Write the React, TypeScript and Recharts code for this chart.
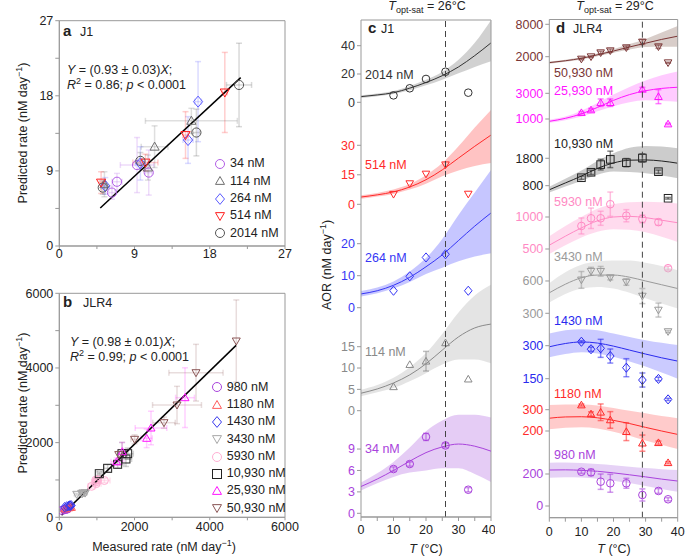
import React from 'react';
import {Area, ComposedChart, ErrorBar, Legend, Line, ReferenceArea, ReferenceLine, Scatter, XAxis, YAxis} from 'recharts';

const FONT = '"Liberation Sans", Arial, Helvetica, sans-serif';
const INK = '#222';
const FRAME = '#999';

type Kind = 'circle' | 'up' | 'down' | 'diamond' | 'square';

// ---------- panel a: J1, measured vs predicted (nM/day)
const j1Pts34 = [
    {x: 6.3, y: 6.4, ex: 0.4, ey: 0.8}, {x: 6.9, y: 7.7, ex: 0.6, ey: 1.0},
    {x: 9.3, y: 9.7, ex: 2.0, ey: 3.3}, {x: 10.7, y: 8.8, ex: 0.4, ey: 2.7},
];
const j1Pts114 = [
    {x: 5.4, y: 7.4, ex: 0.2, ey: 1.5}, {x: 10.6, y: 9.4, ex: 0.3, ey: 1.5},
    {x: 11.4, y: 11.9, ex: 1.6, ey: 2.5}, {x: 15.8, y: 15.0, ex: 5.5, ey: 1.5},
];
const j1Pts264 = [
    {x: 5.5, y: 7.2, ex: 0.2, ey: 1.0}, {x: 9.7, y: 9.9, ex: 0.6, ey: 2.0},
    {x: 15.4, y: 12.7, ex: 0.6, ey: 2.8}, {x: 16.6, y: 17.3, ex: 0.4, ey: 4.8},
];
const j1Pts514 = [
    {x: 5.0, y: 7.6, ex: 0.2, ey: 1.3}, {x: 10.3, y: 10.0, ex: 1.5, ey: 1.0},
    {x: 15.1, y: 13.3, ex: 0.3, ey: 2.8}, {x: 19.8, y: 18.4, ex: 0.3, ey: 4.8},
];
const j1Pts2014 = [
    {x: 5.2, y: 7.0, ex: 0.2, ey: 0.8}, {x: 9.7, y: 10.2, ex: 0.3, ey: 1.0},
    {x: 16.4, y: 13.6, ex: 0.4, ey: 2.8}, {x: 21.5, y: 19.3, ex: 1.5, ey: 5.0},
];
const j1Slope = 0.93;
const j1FitRange = [4.9, 21.7];

// ---------- panel b: JLR4, measured vs predicted (nM/day)
const jlrPts980 = [
    {x: 214, y: 223, ex: 10, ey: 10}, {x: 210, y: 220, ex: 10, ey: 10}, {x: 152, y: 217, ex: 20, ey: 15},
    {x: 142, y: 211, ex: 20, ey: 15}, {x: 142, y: 200, ex: 15, ey: 15}, {x: 69, y: 186, ex: 15, ey: 15},
];
const jlrPts1180 = [
    {x: 322, y: 267, ex: 10, ey: 15}, {x: 280, y: 265, ex: 10, ey: 15}, {x: 288, y: 262, ex: 30, ey: 15},
    {x: 252, y: 255, ex: 30, ey: 15}, {x: 197, y: 242, ex: 30, ey: 15}, {x: 143, y: 225, ex: 30, ey: 15},
];
const jlrPts1430 = [
    {x: 318, y: 317, ex: 10, ey: 15}, {x: 284, y: 315, ex: 10, ey: 15}, {x: 288, y: 312, ex: 30, ey: 15},
    {x: 253, y: 305, ex: 30, ey: 15}, {x: 200, y: 290, ex: 30, ey: 15}, {x: 144, y: 270, ex: 30, ey: 15},
];
const jlrPts3430 = [
    {x: 609, y: 630, ex: 60, ey: 30}, {x: 686, y: 648, ex: 40, ey: 30}, {x: 686, y: 655, ex: 40, ey: 30},
    {x: 631, y: 655, ex: 20, ey: 30}, {x: 594, y: 642, ex: 30, ey: 30}, {x: 463, y: 615, ex: 60, ey: 30},
];
const jlrPts5930 = [
    {x: 859, y: 830, ex: 100, ey: 60}, {x: 980, y: 900, ex: 130, ey: 60}, {x: 980, y: 950, ex: 100, ey: 60},
    {x: 1198, y: 985, ex: 150, ey: 60}, {x: 1020, y: 1005, ex: 80, ey: 60}, {x: 969, y: 995, ex: 60, ey: 60},
];
const jlrPts10930 = [
    {x: 1063, y: 1168, ex: 50, ey: 50}, {x: 1285, y: 1312, ex: 100, ey: 100}, {x: 1551, y: 1420, ex: 100, ey: 100},
    {x: 1666, y: 1704, ex: 120, ey: 300}, {x: 1772, y: 1562, ex: 150, ey: 200}, {x: 1817, y: 1704, ex: 150, ey: 150},
];
const jlrPts25930 = [
    {x: 1524, y: 1489, ex: 150, ey: 100}, {x: 1675, y: 1757, ex: 100, ey: 250}, {x: 2322, y: 2116, ex: 150, ey: 250},
    {x: 2438, y: 2392, ex: 420, ey: 450}, {x: 3342, y: 3204, ex: 250, ey: 800},
];
const jlrPts50930 = [
    {x: 1580, y: 1680, ex: 0, ey: 0}, {x: 2002, y: 2089, ex: 100, ey: 120}, {x: 2783, y: 2534, ex: 300, ey: 150},
    {x: 3129, y: 3008, ex: 650, ey: 500}, {x: 3634, y: 3873, ex: 720, ey: 760}, {x: 4705, y: 4722, ex: 0, ey: 1100},
];
const jlrSlope = 0.98;
const jlrFitRange = [60, 4700];

// ---------- panels c/d: fitted curves evaluated at these temperatures (°C)
const fitTemps = [0, 5, 10, 15, 20, 25, 30, 35, 40];

// panel c (J1), AOR in nM/day
const cTemps = [10, 15, 20, 26, 33];
const c2014 = [4.9, 9.9, 16.5, 21.6, 6.8];
const c514 = [5.1, 10.5, 15.4, 20.1, 5.2];
const c264 = [5.3, 9.8, 15.7, 16.7, 5.3];
const c114 = [5.6, 10.8, 11.6, 15.9, 7.4];
const c34 = [6.2, 6.9, 10.7, 9.5, 3.3];
const c114Err = [0, 0, 2.3, 0, 0];
const c34Err = [0.3, 0.3, 0.5, 0.3, 0.3];

const c2014Fit = [4.0, 5.2, 6.8, 10.0, 14.0, 18.8, 25.0, 33.0, 42.0];
const c2014Lo = [3.0, 4.3, 5.8, 8.5, 12.0, 16.0, 20.5, 25.0, 29.0];
const c2014Hi = [5.0, 6.2, 7.9, 11.5, 16.0, 21.5, 30.0, 42.0, 58.0];
const c514Fit = [3.7, 4.8, 6.3, 8.8, 12.5, 17.5, 23.5, 29.5, 35.2];
const c514Lo = [2.8, 4.0, 5.3, 7.5, 10.5, 14.2, 17.2, 19.5, 21.0];
const c514Hi = [4.6, 5.8, 7.5, 10.3, 14.8, 21.0, 29.5, 39.0, 48.0];
const c264Fit = [4.3, 5.3, 7.0, 9.5, 12.8, 16.5, 21.0, 25.5, 29.6];
const c264Lo = [3.5, 4.5, 6.0, 8.0, 10.5, 12.5, 14.5, 16.0, 17.0];
const c264Hi = [5.2, 6.3, 8.2, 11.3, 15.5, 21.5, 29.0, 36.0, 43.0];
const c114Fit = [4.1, 5.1, 6.5, 8.4, 11.0, 14.2, 17.3, 19.4, 20.3];
const c114Lo = [3.4, 4.3, 5.3, 6.9, 8.8, 10.8, 12.0, 12.0, 11.1];
const c114Hi = [4.9, 6.0, 7.7, 10.2, 13.5, 18.0, 23.0, 27.0, 29.5];
const c34Fit = [3.75, 4.8, 6.0, 7.3, 8.5, 9.3, 9.7, 9.4, 8.7];
const c34Lo = [3.2, 4.2, 5.1, 5.7, 6.0, 6.3, 6.3, 5.5, 4.4];
const c34Hi = [4.3, 5.6, 7.2, 9.2, 11.5, 13.0, 13.8, 13.8, 13.4];

// panel d (JLR4), AOR in nM/day
const dTemps = [10, 13, 16, 19, 24, 29, 34, 37];
const dTemps25930 = [10, 13, 16, 19, 29, 34, 37];
const d50930 = [1570, 2000, 2740, 3110, 3670, 4720, 3850, 890];
const d25930 = [1490, 1700, 2270, 2270, 3310, 2740, 610];
const d10930 = [1090, 1290, 1570, 1760, 1640, 1810, 1310, 340];
const d5930 = [860, 980, 980, 1200, 1020, 970, 920, 200];
const d3430 = [610, 690, 690, 630, 590, 460, 330, 130];
const d1430 = [318, 284, 288, 253, 200, 144, 149, 56];
const d1180 = [322, 280, 288, 252, 197, 143, 145, 51];
const d980 = [214, 210, 152, 142, 142, 69, 94, 42];
const d50930Err = [150, 150, 250, 300, 300, 450, 300, 100];
const d25930Err = [100, 120, 290, 290, 150, 545, 60];
const d10930Err = [60, 80, 195, 300, 150, 150, 60, 30];
const d5930Err = [125, 160, 110, 190, 95, 60, 50, 30];
const d3430Err = [78, 37, 45, 20, 30, 70, 65, 10];
const d1430Err = [5, 10, 41, 32, 41, 32, 8, 5];
const d1180Err = [5, 10, 39, 39, 42, 38, 8, 5];
const d980Err = [10, 20, 48, 56, 31, 38, 15, 10];

const d50930Fit = [900, 1250, 1700, 2350, 3050, 3800, 4500, 5200, 5800];
const d50930Lo = [700, 1050, 1500, 2100, 2750, 3350, 3800, 3850, 3850];
const d50930Hi = [1100, 1450, 1900, 2600, 3400, 4350, 5300, 6500, 7700];
const d25930Fit = [820, 1050, 1400, 1900, 2450, 2900, 3200, 3380, 3470];
const d25930Lo = [700, 900, 1200, 1600, 2000, 2300, 2450, 2400, 2350];
const d25930Hi = [950, 1200, 1650, 2250, 2900, 3500, 4000, 4400, 4700];
const d10930Fit = [650, 900, 1150, 1430, 1630, 1730, 1740, 1700, 1620];
const d10930Lo = [550, 770, 980, 1200, 1320, 1300, 1250, 1170, 1070];
const d10930Hi = [760, 1050, 1350, 1700, 1980, 2180, 2250, 2230, 2170];
const d5930Fit = [560, 700, 830, 940, 1000, 1010, 990, 950, 910];
const d5930Lo = [420, 560, 680, 770, 810, 800, 760, 690, 610];
const d5930Hi = [700, 860, 1000, 1130, 1200, 1230, 1240, 1230, 1210];
const d3430Fit = [490, 570, 630, 655, 655, 635, 600, 565, 530];
const d3430Lo = [400, 480, 530, 545, 530, 490, 440, 390, 345];
const d3430Hi = [580, 680, 750, 780, 790, 790, 770, 740, 700];
const d1430Fit = [295, 310, 317, 312, 298, 280, 262, 245, 230];
const d1430Lo = [247, 262, 270, 265, 250, 228, 205, 178, 150];
const d1430Hi = [355, 370, 375, 370, 355, 340, 325, 313, 303];
const d1180Fit = [260, 266, 267, 262, 250, 235, 217, 200, 184];
const d1180Lo = [208, 215, 218, 212, 197, 178, 155, 135, 115];
const d1180Hi = [322, 325, 325, 320, 308, 295, 283, 270, 260];
const d980Fit = [225, 226, 223, 217, 207, 195, 182, 168, 156];
const d980Lo = [177, 180, 178, 170, 158, 143, 125, 106, 89];
const d980Hi = [270, 272, 268, 262, 255, 245, 237, 230, 225];


interface MarkerProps {
    cx?: number;
    cy?: number;
    kind: Kind;
    color: string;
    r: number;
}

function Marker({cx, cy, kind, color, r}: MarkerProps) {
    if (cx == null || cy == null) return null;
    const p = {fill: 'none', stroke: color, strokeWidth: 1};
    switch (kind) {
        case 'circle':
            return <circle cx={cx} cy={cy} r={r} {...p}/>;
        case 'square':
            return <rect x={cx - r} y={cy - r} width={2 * r} height={2 * r} {...p}/>;
        case 'diamond':
            return <polygon points={`${cx},${cy - r * 1.2} ${cx + r},${cy} ${cx},${cy + r * 1.2} ${cx - r},${cy}`} {...p}/>;
        case 'up':
            return <polygon points={`${cx},${cy - r} ${cx + r},${cy + r * 0.75} ${cx - r},${cy + r * 0.75}`} {...p}/>;
        case 'down':
            return <polygon points={`${cx},${cy + r} ${cx + r},${cy - r * 0.75} ${cx - r},${cy - r * 0.75}`} {...p}/>;
    }
}

interface ParitySeries {
    name: string;
    kind: Kind;
    color: string;
    err: string;
    points: {x: number; y: number; ex: number; ey: number}[];
}

const seriesA: ParitySeries[] = [
    {name: '34 nM', kind: 'circle', color: '#b25ee6', err: 'rgba(178,94,230,0.22)', points: j1Pts34},
    {name: '114 nM', kind: 'up', color: '#6f6f6f', err: 'rgba(110,110,110,0.22)', points: j1Pts114},
    {name: '264 nM', kind: 'diamond', color: '#5a5aff', err: 'rgba(90,90,255,0.22)', points: j1Pts264},
    {name: '514 nM', kind: 'down', color: '#ff1f1f', err: 'rgba(255,31,31,0.22)', points: j1Pts514},
    {name: '2014 nM', kind: 'circle', color: '#555555', err: 'rgba(80,80,80,0.22)', points: j1Pts2014},
];

const seriesB: ParitySeries[] = [
    {name: '980 nM', kind: 'circle', color: '#a943dc', err: 'rgba(169,67,220,0.22)', points: jlrPts980},
    {name: '1180 nM', kind: 'up', color: '#ff5a5a', err: 'rgba(255,90,90,0.22)', points: jlrPts1180},
    {name: '1430 nM', kind: 'diamond', color: '#3a3aee', err: 'rgba(58,58,238,0.22)', points: jlrPts1430},
    {name: '3430 nM', kind: 'down', color: '#a8a8a8', err: 'rgba(160,160,160,0.25)', points: jlrPts3430},
    {name: '5930 nM', kind: 'circle', color: '#ffb0d4', err: 'rgba(255,160,200,0.3)', points: jlrPts5930},
    {name: '10,930 nM', kind: 'square', color: '#222222', err: 'rgba(60,60,60,0.22)', points: jlrPts10930},
    {name: '25,930 nM', kind: 'up', color: '#ff14ff', err: 'rgba(255,20,255,0.2)', points: jlrPts25930},
    {name: '50,930 nM', kind: 'down', color: '#8a5555', err: 'rgba(138,85,85,0.2)', points: jlrPts50930},
];

function LegendBox({series}: {series: ParitySeries[]}) {
    return (
        <div style={{fontFamily: FONT, fontSize: 12.5, color: INK, lineHeight: '17.3px'}}>
            {series.map(s => (
                <div key={s.name} style={{display: 'flex', alignItems: 'center', height: 17.3}}>
                    <svg width={14} height={14}>
                        <Marker cx={7} cy={7} kind={s.kind} color={s.color} r={4.5}/>
                    </svg>
                    <span style={{marginLeft: 3}}>{s.name}</span>
                </div>
            ))}
        </div>
    );
}

interface ParityProps {
    top: number;
    height: number;
    plotTop: number;
    plotBottom: number;
    max: number;
    ticks: number[];
    major: number;
    series: ParitySeries[];
    slope: number;
    fitRange: number[];
    legend: {left: number; top: number};
    xTickMargin: number;
    r: number;
}

function ParityPanel(props: ParityProps) {
    const {top, height, plotTop, plotBottom, max, ticks, major, series, slope, fitRange, legend, xTickMargin, r} = props;
    const fmt = (v: number) => (v % major === 0 ? String(v) : '');
    const fit = fitRange.map(x => ({x, fit: slope * x}));
    return (
        <div style={{position: 'absolute', left: 0, top}}>
            <ComposedChart width={300} height={height} margin={{top: plotTop, right: 15, bottom: 0, left: 0}}>
                <XAxis type="number" dataKey="x" domain={[0, max]} ticks={ticks} tickFormatter={fmt}
                       allowDataOverflow height={height - plotBottom} stroke={FRAME}
                       tick={{fill: INK, fontSize: 12.5}} tickSize={3} tickMargin={xTickMargin}/>
                <YAxis type="number" domain={[0, max]} ticks={ticks} tickFormatter={fmt} allowDataOverflow
                       width={59.3} stroke={FRAME} tick={{fill: INK, fontSize: 12.5}} tickSize={4} tickMargin={2}/>
                <ReferenceArea x1={0} x2={max} y1={0} y2={max} fill="none" stroke={FRAME} ifOverflow="visible"/>
                {series.map(s => (
                    <Scatter key={s.name} name={s.name} data={s.points} dataKey="y" isAnimationActive={false}
                             shape={(p: any) => <Marker cx={p.cx} cy={p.cy} kind={s.kind} color={s.color} r={r}/>}>
                        <ErrorBar dataKey="ey" direction="y" width={3} stroke={s.err} isAnimationActive={false}/>
                        <ErrorBar dataKey="ex" direction="x" width={3} stroke={s.err} isAnimationActive={false}/>
                    </Scatter>
                ))}
                <Line data={fit} dataKey="fit" type="linear" stroke="#000" strokeWidth={1.5} dot={false}
                      isAnimationActive={false} legendType="none"/>
                <Legend layout="vertical" align="center" verticalAlign="middle"
                        wrapperStyle={{left: legend.left, top: legend.top, width: 'auto', height: 'auto'}}
                        content={() => <LegendBox series={series}/>}/>
            </ComposedChart>
        </div>
    );
}

interface StackSeries {
    name: string;
    kind: Kind;
    color: string;
    band: string;
    temps: number[];
    values: number[];
    err: number[];
    fit: number[];
    lo: number[];
    hi: number[];
    ticks: number[];
    // layout: pixel row of the zero line and pixels per unit in this strip
    zero: number;
    ppu: number;
    labelY: number;
}

const seriesC: StackSeries[] = [
    {name: '2014 nM', kind: 'circle', color: '#333333', band: '#9a9a9a', temps: cTemps, values: c2014, err: [0, 0, 0, 0, 0],
        fit: c2014Fit, lo: c2014Lo, hi: c2014Hi, ticks: [0, 20, 40], zero: 102.3, ppu: 1.415, labelY: 78.5},
    {name: '514 nM', kind: 'down', color: '#ff2a2a', band: '#ff7a7a', temps: cTemps, values: c514, err: [0, 0, 0, 0, 0],
        fit: c514Fit, lo: c514Lo, hi: c514Hi, ticks: [0, 15, 30], zero: 204.3, ppu: 1.967, labelY: 169},
    {name: '264 nM', kind: 'diamond', color: '#3636f5', band: '#8080ff', temps: cTemps, values: c264, err: [0, 0, 0, 0, 0],
        fit: c264Fit, lo: c264Lo, hi: c264Hi, ticks: [0, 10, 20], zero: 307.7, ppu: 3.2, labelY: 262},
    {name: '114 nM', kind: 'up', color: '#8a8a8a', band: '#c4c4c4', temps: cTemps, values: c114, err: c114Err,
        fit: c114Fit, lo: c114Lo, hi: c114Hi, ticks: [0, 5, 10, 15], zero: 410.7, ppu: 4.267, labelY: 356},
    {name: '34 nM', kind: 'circle', color: '#a943dc', band: '#c58ee8', temps: cTemps, values: c34, err: c34Err,
        fit: c34Fit, lo: c34Lo, hi: c34Hi, ticks: [0, 3, 6, 9], zero: 513.3, ppu: 7.14, labelY: 453},
];

const seriesD: StackSeries[] = [
    {name: '50,930 nM', kind: 'down', color: '#7a3535', band: '#a89088', temps: dTemps, values: d50930, err: d50930Err,
        fit: d50930Fit, lo: d50930Lo, hi: d50930Hi, ticks: [2000, 5000, 8000], zero: 67.5, ppu: 0.0054, labelY: 77},
    {name: '25,930 nM', kind: 'up', color: '#ff14ff', band: '#ff8cff', temps: dTemps25930, values: d25930, err: d25930Err,
        fit: d25930Fit, lo: d25930Lo, hi: d25930Hi, ticks: [1000, 3000], zero: 131.85, ppu: 0.01285, labelY: 94.5},
    {name: '10,930 nM', kind: 'square', color: '#222222', band: '#8f8f8f', temps: dTemps, values: d10930, err: d10930Err,
        fit: d10930Fit, lo: d10930Lo, hi: d10930Hi, ticks: [800, 1800], zero: 207.6, ppu: 0.0274, labelY: 148},
    {name: '5930 nM', kind: 'circle', color: '#ff8ac4', band: '#ffb0da', temps: dTemps, values: d5930, err: d5930Err,
        fit: d5930Fit, lo: d5930Lo, hi: d5930Hi, ticks: [500, 1000], zero: 281, ppu: 0.064, labelY: 206},
    {name: '3430 nM', kind: 'down', color: '#9a9a9a', band: '#cccccc', temps: dTemps, values: d3430, err: d3430Err,
        fit: d3430Fit, lo: d3430Lo, hi: d3430Hi, ticks: [300, 600], zero: 345.6, ppu: 0.1077, labelY: 261},
    {name: '1430 nM', kind: 'diamond', color: '#2a2aee', band: '#8c8cff', temps: dTemps, values: d1430, err: d1430Err,
        fit: d1430Fit, lo: d1430Lo, hi: d1430Hi, ticks: [150, 300], zero: 411.7, ppu: 0.22, labelY: 324.5},
    {name: '1180 nM', kind: 'up', color: '#ff2a2a', band: '#ff8c8c', temps: dTemps, values: d1180, err: d1180Err,
        fit: d1180Fit, lo: d1180Lo, hi: d1180Hi, ticks: [200, 300], zero: 473.6, ppu: 0.213, labelY: 398},
    {name: '980 nM', kind: 'circle', color: '#a943dc', band: '#c89cec', temps: dTemps, values: d980, err: d980Err,
        fit: d980Fit, lo: d980Lo, hi: d980Hi, ticks: [0, 100, 200], zero: 506, ppu: 0.16, labelY: 459},
];

interface StackBox {
    left: number;
    width: number;
    plotLeft: number;
    plotRight: number;
    plotTop: number;
    plotBottom: number;
    dashAt: number;
    xTickMargin: number;
}

const H = 558;
const tempTicks = [0, 5, 10, 15, 20, 25, 30, 35, 40];

function StackPanel({box, series}: {box: StackBox; series: StackSeries[]}) {
    const fmtT = (v: number) => (v % 10 === 0 ? String(v) : '');
    return <>
        {series.map((s, i) => {
            const yDomain = [(s.zero - box.plotBottom) / s.ppu, (s.zero - box.plotTop) / s.ppu];
            const pts = s.temps.map((T, j) => ({T, v: s.values[j], e: s.err[j]}));
            const curve = fitTemps.map((T, j) => ({T, fit: s.fit[j], band: [s.lo[j], s.hi[j]]}));
            const isTop = i === series.length - 1;
            return (
                <div key={s.name} style={{position: 'absolute', left: box.left, top: 0}}>
                    <ComposedChart width={box.width} height={H}
                                   margin={{top: box.plotTop, right: box.width - box.plotRight, bottom: 0, left: 0}}>
                        <XAxis type="number" dataKey="T" domain={[0, 40]} ticks={tempTicks} tickFormatter={fmtT}
                               allowDataOverflow height={H - box.plotBottom} stroke={FRAME}
                               axisLine={isTop} tickLine={isTop}
                               tick={isTop ? {fill: INK, fontSize: 12.5} : false}
                               tickSize={4} tickMargin={box.xTickMargin}/>
                        <YAxis type="number" domain={yDomain} allowDataOverflow ticks={s.ticks} width={box.plotLeft}
                               stroke={FRAME} axisLine={false} tick={{fill: s.color, fontSize: 12.5}}
                               tickSize={4} tickMargin={2}/>
                        <Area data={curve} dataKey="band" type="monotone" fill={s.band} fillOpacity={0.45}
                              stroke="none" isAnimationActive={false}/>
                        <Line data={curve} dataKey="fit" type="monotone" stroke={s.color} strokeWidth={1}
                              dot={false} isAnimationActive={false}/>
                        <Scatter data={pts} dataKey="v" isAnimationActive={false}
                                 shape={(p: any) => <Marker cx={p.cx} cy={p.cy} kind={s.kind} color={s.color} r={3.8}/>}>
                            <ErrorBar dataKey="e" direction="y" width={3} stroke={s.color} strokeOpacity={0.55}
                                      isAnimationActive={false}/>
                        </Scatter>
                        {isTop && <ReferenceArea x1={0} x2={40} y1={yDomain[0]} y2={yDomain[1]} fill="none"
                                                 stroke={FRAME} ifOverflow="visible"/>}
                        {isTop && <ReferenceLine x={box.dashAt} stroke="#444" strokeDasharray="6 4"
                                                 ifOverflow="visible"/>}
                    </ComposedChart>
                </div>
            );
        })}
    </>;
}

const boxC: StackBox = {left: 300, width: 195, plotLeft: 61, plotRight: 191, plotTop: 20, plotBottom: 517, dashAt: 26, xTickMargin: 4};
const boxD: StackBox = {left: 495, width: 190, plotLeft: 54.3, plotRight: 182.7, plotTop: 19.5, plotBottom: 517.7, dashAt: 29, xTickMargin: 5};

function Unit() {
    return <>
        <tspan>(nM day</tspan>
        <tspan dy={-5} fontSize={9}>−1</tspan>
        <tspan dy={5}>)</tspan>
    </>;
}

function Annotations() {
    return (
        <svg width={685} height={H} style={{position: 'absolute', left: 0, top: 0, pointerEvents: 'none'}}
             fontFamily={FONT} fill={INK} fontSize={12.5}>
            {/* panel a */}
            <text x={63} y={36} fontSize={15} fontWeight="bold">a</text>
            <text x={80} y={36}>J1</text>
            <text x={67} y={74}><tspan fontStyle="italic">Y</tspan> = (0.93 ± 0.03)<tspan fontStyle="italic">X</tspan>;</text>
            <text x={67} y={89}>
                <tspan fontStyle="italic">R</tspan><tspan dy={-5} fontSize={9}>2</tspan>
                <tspan dy={5}> = 0.86; </tspan><tspan fontStyle="italic">p</tspan>{' < 0.0001'}
            </text>
            <text transform="translate(27,133) rotate(-90)" textAnchor="middle">Predicted rate <Unit/></text>

            {/* panel b */}
            <text x={63} y={307} fontSize={15} fontWeight="bold">b</text>
            <text x={83} y={307}>JLR4</text>
            <text x={70} y={345.5}><tspan fontStyle="italic">Y</tspan> = (0.98 ± 0.01)<tspan fontStyle="italic">X</tspan>;</text>
            <text x={70} y={360.5}>
                <tspan fontStyle="italic">R</tspan><tspan dy={-5} fontSize={9}>2</tspan>
                <tspan dy={5}> = 0.99; </tspan><tspan fontStyle="italic">p</tspan>{' < 0.0001'}
            </text>
            <text transform="translate(27,403) rotate(-90)" textAnchor="middle">Predicted rate <Unit/></text>
            <text x={164} y={551} textAnchor="middle">Measured rate <Unit/></text>

            {/* panel c */}
            <text x={427} y={10} textAnchor="middle">
                <tspan fontStyle="italic">T</tspan><tspan dy={3} fontSize={9}>opt-sat</tspan><tspan dy={-3}> = 26°C</tspan>
            </text>
            <text x={368} y={33} fontSize={15} fontWeight="bold">c</text>
            <text x={381} y={33}>J1</text>
            <text transform="translate(331,265) rotate(-90)" textAnchor="middle">AOR <Unit/></text>
            <text x={426} y={553} textAnchor="middle"><tspan fontStyle="italic">T</tspan> (°C)</text>
            {seriesC.map(s => (
                <text key={s.name} x={365} y={s.labelY} fill={s.color}>{s.name}</text>
            ))}

            {/* panel d */}
            <text x={615} y={10} textAnchor="middle">
                <tspan fontStyle="italic">T</tspan><tspan dy={3} fontSize={9}>opt-sat</tspan><tspan dy={-3}> = 29°C</tspan>
            </text>
            <text x={556} y={33} fontSize={15} fontWeight="bold">d</text>
            <text x={573} y={33}>JLR4</text>
            <text x={614} y={553} textAnchor="middle"><tspan fontStyle="italic">T</tspan> (°C)</text>
            {seriesD.map(s => (
                <text key={s.name} x={554} y={s.labelY} fill={s.color}>{s.name}</text>
            ))}
        </svg>
    );
}

export default function App() {
    return (
        <div style={{position: 'absolute', left: 0, top: 0, width: 685, height: H, background: '#fff',
            fontFamily: FONT, overflow: 'hidden'}}>
            <ParityPanel top={0} height={270} plotTop={20.7} plotBottom={246} max={27}
                         ticks={[0, 4.5, 9, 13.5, 18, 22.5, 27]} major={9} series={seriesA}
                         slope={j1Slope} fitRange={j1FitRange} legend={{left: 213, top: 155.4}}
                         xTickMargin={0} r={4.6}/>
            <ParityPanel top={270} height={288} plotTop={23.3} plotBottom={247.3} max={6000}
                         ticks={[0, 1000, 2000, 3000, 4000, 5000, 6000]} major={2000} series={seriesB}
                         slope={jlrSlope} fitRange={jlrFitRange} legend={{left: 209.7, top: 108.7}}
                         xTickMargin={2} r={4}/>
            <StackPanel box={boxC} series={seriesC}/>
            <StackPanel box={boxD} series={seriesD}/>
            <Annotations/>
        </div>
    );
}
